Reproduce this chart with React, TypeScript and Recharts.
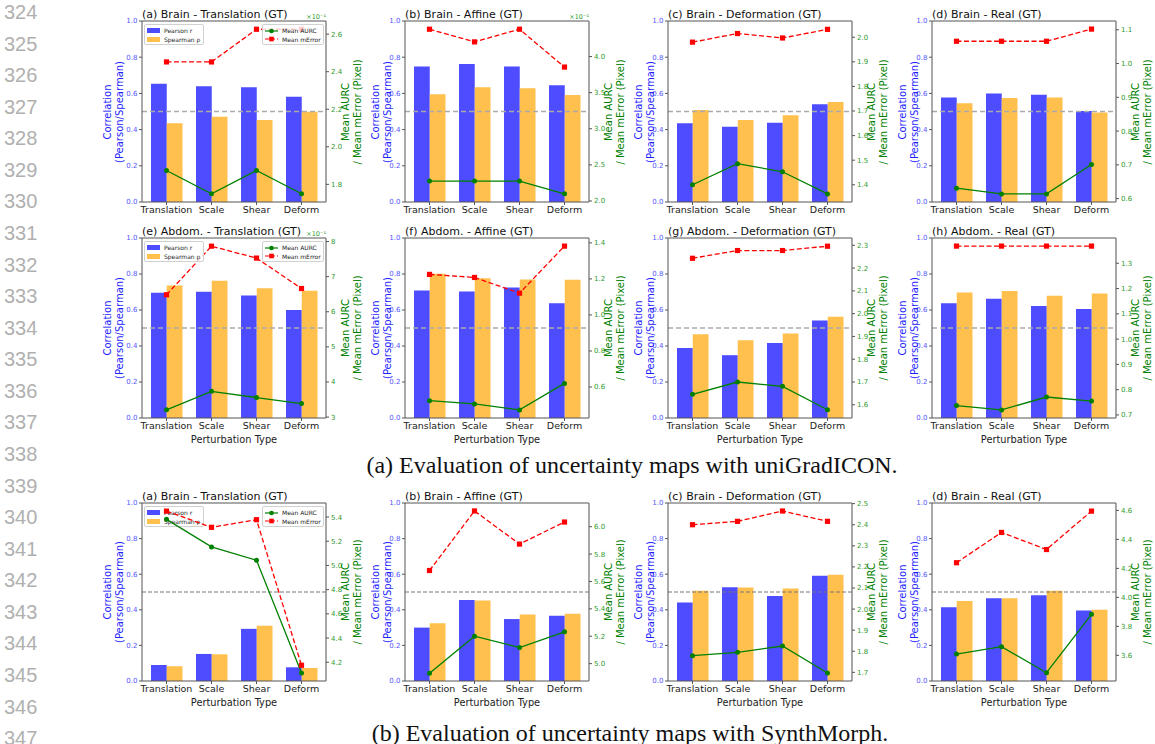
import React from "react";
import { ComposedChart, Bar, Line, XAxis, YAxis, ReferenceLine } from "recharts";

// ---- data ----
const CATEGORIES = ["Translation", "Scale", "Shear", "Deform"];

const BRAIN_TITLES = [
  "(a) Brain - Translation (GT)",
  "(b) Brain - Affine (GT)",
  "(c) Brain - Deformation (GT)",
  "(d) Brain - Real (GT)",
];
const ABDOM_TITLES = [
  "(e) Abdom. - Translation (GT)",
  "(f) Abdom. - Affine (GT)",
  "(g) Abdom. - Deformation (GT)",
  "(h) Abdom. - Real (GT)",
];

// uniGradICON, brain
const UGI_BRAIN_PEARSON = [
  [0.654, 0.639, 0.634, 0.582],
  [0.748, 0.762, 0.748, 0.645],
  [0.435, 0.416, 0.438, 0.54],
  [0.578, 0.6, 0.593, 0.503],
];
const UGI_BRAIN_SPEARMAN = [
  [0.435, 0.471, 0.453, 0.499],
  [0.595, 0.634, 0.628, 0.591],
  [0.508, 0.453, 0.479, 0.552],
  [0.545, 0.575, 0.578, 0.495],
];
const UGI_BRAIN_AURC = [
  [1.874, 1.75, 1.874, 1.75],
  [2.276, 2.276, 2.276, 2.1],
  [1.4, 1.486, 1.453, 1.363],
  [0.631, 0.614, 0.614, 0.701],
];
const UGI_BRAIN_MERROR = [
  [2.452, 2.452, 2.626, 2.626],
  [4.378, 4.203, 4.378, 3.854],
  [1.98, 2.015, 1.997, 2.032],
  [1.066, 1.066, 1.066, 1.102],
];
const UGI_BRAIN_RIGHT_TICKS = [
  [1.8, 2.0, 2.2, 2.4, 2.6],
  [2.0, 2.5, 3.0, 3.5, 4.0],
  [1.4, 1.5, 1.6, 1.7, 1.8, 1.9, 2.0],
  [0.6, 0.7, 0.8, 0.9, 1.0, 1.1],
];
const UGI_BRAIN_RIGHT_DOMAIN = [
  [1.706, 2.67],
  [1.986, 4.492],
  [1.33, 2.066],
  [0.59, 1.126],
];

// uniGradICON, abdomen
const UGI_ABDOM_PEARSON = [
  [0.696, 0.701, 0.681, 0.6],
  [0.708, 0.703, 0.725, 0.637],
  [0.389, 0.349, 0.417, 0.541],
  [0.637, 0.662, 0.622, 0.605],
];
const UGI_ABDOM_SPEARMAN = [
  [0.736, 0.762, 0.721, 0.707],
  [0.801, 0.777, 0.769, 0.768],
  [0.465, 0.432, 0.469, 0.563],
  [0.697, 0.705, 0.679, 0.692],
];
const UGI_ABDOM_AURC = [
  [3.207, 3.734, 3.556, 3.386],
  [0.524, 0.506, 0.473, 0.62],
  [1.646, 1.7, 1.681, 1.578],
  [0.737, 0.72, 0.771, 0.755],
];
const UGI_ABDOM_MERROR = [
  [6.484, 7.868, 7.529, 6.663],
  [1.225, 1.208, 1.121, 1.382],
  [2.243, 2.277, 2.277, 2.296],
  [1.368, 1.368, 1.368, 1.368],
];
const UGI_ABDOM_RIGHT_TICKS = [
  [3, 4, 5, 6, 7, 8],
  [0.6, 0.8, 1.0, 1.2, 1.4],
  [1.6, 1.7, 1.8, 1.9, 2.0, 2.1, 2.2, 2.3],
  [0.7, 0.8, 0.9, 1.0, 1.1, 1.2, 1.3],
];
const UGI_ABDOM_RIGHT_DOMAIN = [
  [2.974, 8.101],
  [0.428, 1.427],
  [1.542, 2.332],
  [0.688, 1.4],
];

// SynthMorph, brain
const SM_BRAIN_PEARSON = [
  [0.09, 0.152, 0.293, 0.077],
  [0.3, 0.455, 0.348, 0.367],
  [0.441, 0.527, 0.477, 0.591],
  [0.415, 0.465, 0.482, 0.396],
];
const SM_BRAIN_SPEARMAN = [
  [0.083, 0.15, 0.31, 0.073],
  [0.325, 0.452, 0.373, 0.378],
  [0.507, 0.525, 0.52, 0.597],
  [0.45, 0.465, 0.507, 0.4],
];
const SM_BRAIN_AURC = [
  [5.381, 5.153, 5.043, 4.112],
  [4.93, 5.2, 5.117, 5.232],
  [1.779, 1.795, 1.825, 1.697],
  [3.609, 3.66, 3.48, 3.883],
];
const SM_BRAIN_MERROR = [
  [5.449, 5.315, 5.378, 4.175],
  [5.68, 6.115, 5.873, 6.034],
  [2.4, 2.416, 2.465, 2.416],
  [4.239, 4.448, 4.33, 4.595],
];
const SM_BRAIN_RIGHT_TICKS = [
  [4.2, 4.4, 4.6, 4.8, 5.0, 5.2, 5.4],
  [5.0, 5.2, 5.4, 5.6, 5.8, 6.0],
  [1.7, 1.8, 1.9, 2.0, 2.1, 2.2, 2.3, 2.4, 2.5],
  [3.6, 3.8, 4.0, 4.2, 4.4, 4.6],
];
const SM_BRAIN_RIGHT_DOMAIN = [
  [4.045, 5.516],
  [4.873, 6.173],
  [1.659, 2.503],
  [3.423, 4.651],
];

const LEFT_TICKS = [0, 0.2, 0.4, 0.6, 0.8, 1.0];
const LINE_NUMBERS = Array.from({ length: 24 }, (_, i) => String(324 + i));
const CAPTION_A = "(a) Evaluation of uncertainty maps with uniGradICON.";
const CAPTION_B = "(b) Evaluation of uncertainty maps with SynthMorph.";

const ROW_DATA = [
  {
    titles: BRAIN_TITLES,
    pearson: UGI_BRAIN_PEARSON,
    spearman: UGI_BRAIN_SPEARMAN,
    aurc: UGI_BRAIN_AURC,
    merror: UGI_BRAIN_MERROR,
    ticks: UGI_BRAIN_RIGHT_TICKS,
    domain: UGI_BRAIN_RIGHT_DOMAIN,
    sci: [true, true, false, false],
  },
  {
    titles: ABDOM_TITLES,
    pearson: UGI_ABDOM_PEARSON,
    spearman: UGI_ABDOM_SPEARMAN,
    aurc: UGI_ABDOM_AURC,
    merror: UGI_ABDOM_MERROR,
    ticks: UGI_ABDOM_RIGHT_TICKS,
    domain: UGI_ABDOM_RIGHT_DOMAIN,
    sci: [true, false, false, false],
  },
  {
    titles: BRAIN_TITLES,
    pearson: SM_BRAIN_PEARSON,
    spearman: SM_BRAIN_SPEARMAN,
    aurc: SM_BRAIN_AURC,
    merror: SM_BRAIN_MERROR,
    ticks: SM_BRAIN_RIGHT_TICKS,
    domain: SM_BRAIN_RIGHT_DOMAIN,
    sci: [false, false, false, false],
  },
];

// ---- layout / style ----
const FONT = "'DejaVu Sans', sans-serif";
const BLUE = "#4d4dff";
const ORANGE = "#ffc04d";
const GREEN = "#008000";
const RED = "#ff0000";

const LW = 30;
const RW = 30;
const MT = 10;
const XH = 22;
const PLOT_W = 184;
const COL_LEFTS = [142, 405, 668, 932];
const ROWS = [
  { top: 21, h: 181, xlabel: false },
  { top: 238, h: 180, xlabel: true },
  { top: 503, h: 178, xlabel: true },
];

function SquareDot(props: any) {
  const { cx, cy, index } = props;
  if (typeof cx !== "number" || typeof cy !== "number") return <g key={index} />;
  return <rect key={index} x={cx - 2.6} y={cy - 2.6} width={5.2} height={5.2} fill={RED} />;
}

function RotLabel({ x, y, lines, color, size }: any) {
  return (
    <div
      style={{
        position: "absolute",
        left: x,
        top: y,
        transform: "translate(-50%, -50%) rotate(-90deg)",
        whiteSpace: "nowrap",
        textAlign: "center",
        color,
        fontSize: size,
        lineHeight: `${size * 1.18}px`,
        fontFamily: FONT,
      }}
    >
      {lines.map((l: string) => (
        <div key={l}>{l}</div>
      ))}
    </div>
  );
}

const legendBox = {
  position: "absolute" as const,
  height: 21,
  boxSizing: "border-box" as const,
  border: "1px solid #d0d0d0",
  borderRadius: 2,
  background: "rgba(255,255,255,0.8)",
  padding: "1.5px 2px",
  fontSize: 6,
  fontFamily: FONT,
  color: "#222",
  whiteSpace: "nowrap" as const,
};

function BarLegend({ left, top }: any) {
  const row = (color: string, text: string) => (
    <div style={{ display: "flex", alignItems: "center", height: 8.5 }}>
      <span style={{ display: "inline-block", width: 13, height: 5, background: color, marginRight: 4 }} />
      {text}
    </div>
  );
  return (
    <div style={{ ...legendBox, left, top, width: 60 }}>
      {row(BLUE, "Pearson r")}
      {row(ORANGE, "Spearman ρ")}
    </div>
  );
}

function LineLegend({ left, top }: any) {
  const row = (kind: "aurc" | "merror", text: string) => (
    <div style={{ display: "flex", alignItems: "center", height: 8.5 }}>
      <svg width={13} height={6} style={{ marginRight: 4 }}>
        {kind === "aurc" ? (
          <>
            <line x1={0} y1={3} x2={13} y2={3} stroke={GREEN} strokeWidth={1.2} />
            <circle cx={6.5} cy={3} r={2.3} fill={GREEN} />
          </>
        ) : (
          <>
            <line x1={0} y1={3} x2={13} y2={3} stroke={RED} strokeWidth={1.2} strokeDasharray="4 2" />
            <rect x={4.2} y={0.7} width={4.6} height={4.6} fill={RED} />
          </>
        )}
      </svg>
      {text}
    </div>
  );
  return (
    <div style={{ ...legendBox, left, top, width: 62 }}>
      {row("aurc", "Mean AURC")}
      {row("merror", "Mean mError")}
    </div>
  );
}

function Panel({ row, col }: { row: number; col: number }) {
  const r = ROWS[row];
  const d = ROW_DATA[row];
  const left = COL_LEFTS[col];
  const top = r.top;
  const h = r.h;
  const data = CATEGORIES.map((cat, i) => ({
    cat,
    pearson: d.pearson[col][i],
    spearman: d.spearman[col][i],
    aurc: d.aurc[col][i],
    merror: d.merror[col][i],
  }));
  const unit = (PLOT_W - 4) / 4;
  const barSize = unit * 0.35;
  const intTicks = d.ticks[col].every((t) => Number.isInteger(t)) && d.ticks[col][0] >= 3;
  const lastRow = row === 2;
  const showLegend = col === 0;
  const legends = showLegend ? (
    <>
      <BarLegend left={left + 2} top={top + 3} />
      <LineLegend left={left + PLOT_W - 64} top={top + 3} />
    </>
  ) : null;
  const leftOff = col === 0 ? -28 : -23;

  return (
    <>
      {lastRow && legends}
      <div style={{ position: "absolute", left: left - LW, top: top - MT }}>
        <ComposedChart
          width={PLOT_W + LW + RW}
          height={h + MT + XH}
          data={data}
          margin={{ top: MT, right: 0, bottom: 0, left: 0 }}
          barGap={0}
          barSize={barSize}
        >
          <XAxis
            dataKey="cat"
            height={XH}
            interval={0}
            padding={{ left: 2, right: 2 }}
            tick={{ fontSize: 9.5, fill: "#222", fontFamily: FONT }}
            tickSize={3}
            tickMargin={1.5}
            axisLine={{ stroke: "#555" }}
            tickLine={{ stroke: "#555" }}
          />
          <YAxis
            yAxisId="l"
            orientation="left"
            width={LW}
            domain={[0, 1]}
            ticks={LEFT_TICKS}
            tickFormatter={(v: number) => v.toFixed(1)}
            tick={{ fontSize: 7, fill: "#5555ff", fontFamily: FONT }}
            tickSize={3}
            tickMargin={1.5}
            axisLine={{ stroke: "#555" }}
            tickLine={{ stroke: "#555" }}
          />
          <YAxis
            yAxisId="r"
            orientation="right"
            width={RW}
            domain={d.domain[col]}
            allowDataOverflow
            ticks={d.ticks[col]}
            tickFormatter={(v: number) => (intTicks ? String(v) : v.toFixed(1))}
            tick={{ fontSize: 7, fill: "#2e9a2e", fontFamily: FONT }}
            tickSize={3}
            tickMargin={2}
            axisLine={{ stroke: "#777", strokeWidth: 1.3 }}
            tickLine={{ stroke: "#555" }}
          />
          <ReferenceLine yAxisId="l" y={1} stroke="#555" />
          <Bar yAxisId="l" dataKey="pearson" fill={BLUE} isAnimationActive={false} />
          <Bar yAxisId="l" dataKey="spearman" fill={ORANGE} isAnimationActive={false} />
          <ReferenceLine
            yAxisId="l"
            y={0.5}
            stroke={lastRow ? "#777" : "#aaa"}
            strokeWidth={lastRow ? 1 : 1.5}
            strokeDasharray={lastRow ? "4 2" : "5 3"}
          />
          <Line
            yAxisId="r"
            type="linear"
            dataKey="aurc"
            stroke={GREEN}
            strokeWidth={1.3}
            dot={{ r: 2.5, fill: GREEN, stroke: GREEN, strokeWidth: 0 }}
            isAnimationActive={false}
          />
          <Line
            yAxisId="r"
            type="linear"
            dataKey="merror"
            stroke={RED}
            strokeWidth={1.3}
            strokeDasharray="5 2.5"
            dot={SquareDot}
            isAnimationActive={false}
          />
        </ComposedChart>
      </div>
      {!lastRow && legends}
      <div
        style={{
          position: "absolute",
          left,
          top: top - 7,
          transform: "translateY(-50%)",
          fontSize: 11,
          fontFamily: FONT,
          color: "#111",
          whiteSpace: "nowrap",
        }}
      >
        {d.titles[col]}
      </div>
      {d.sci[col] && (
        <div
          style={{
            position: "absolute",
            left: left + PLOT_W - 30,
            width: 30,
            top: top - 4,
            transform: "translateY(-50%)",
            textAlign: "right",
            fontSize: 6.5,
            fontFamily: FONT,
            color: "#2e9a2e",
          }}
        >
          ×10⁻¹
        </div>
      )}
      <RotLabel
        x={left + leftOff}
        y={top + h / 2}
        lines={["Correlation", "(Pearson/Spearman)"]}
        color="#2222ff"
        size={10}
      />
      <RotLabel
        x={left + PLOT_W + 26}
        y={top + h / 2}
        lines={["Mean AURC", "/ Mean mError (Pixel)"]}
        color={GREEN}
        size={10}
      />
      {r.xlabel && (
        <div
          style={{
            position: "absolute",
            left: left + PLOT_W / 2,
            top: top + h + 21,
            transform: "translate(-50%, -50%)",
            fontSize: 9.8,
            fontFamily: FONT,
            color: "#222",
            whiteSpace: "nowrap",
          }}
        >
          Perturbation Type
        </div>
      )}
    </>
  );
}

export default function App() {
  return (
    <div
      style={{
        position: "absolute",
        left: 0,
        top: 0,
        width: 1155,
        height: 744,
        background: "#fff",
        overflow: "hidden",
      }}
    >
      {LINE_NUMBERS.map((n, i) => (
        <div
          key={n}
          style={{
            position: "absolute",
            left: 4,
            top: 12 + i * 31.57,
            transform: "translateY(-50%)",
            fontSize: 20,
            fontFamily: "'Liberation Sans', sans-serif",
            color: "#b0b0b0",
          }}
        >
          {n}
        </div>
      ))}
      {[0, 1, 2].map((row) => [0, 1, 2, 3].map((col) => <Panel key={`${row}-${col}`} row={row} col={col} />))}
      <div
        style={{
          position: "absolute",
          left: 632,
          top: 465,
          transform: "translate(-50%, -50%)",
          fontSize: 24,
          fontFamily: "'Liberation Serif', serif",
          color: "#111",
          whiteSpace: "nowrap",
        }}
      >
        {CAPTION_A}
      </div>
      <div
        style={{
          position: "absolute",
          left: 630,
          top: 733,
          transform: "translate(-50%, -50%)",
          fontSize: 24,
          fontFamily: "'Liberation Serif', serif",
          color: "#111",
          whiteSpace: "nowrap",
        }}
      >
        {CAPTION_B}
      </div>
    </div>
  );
}
